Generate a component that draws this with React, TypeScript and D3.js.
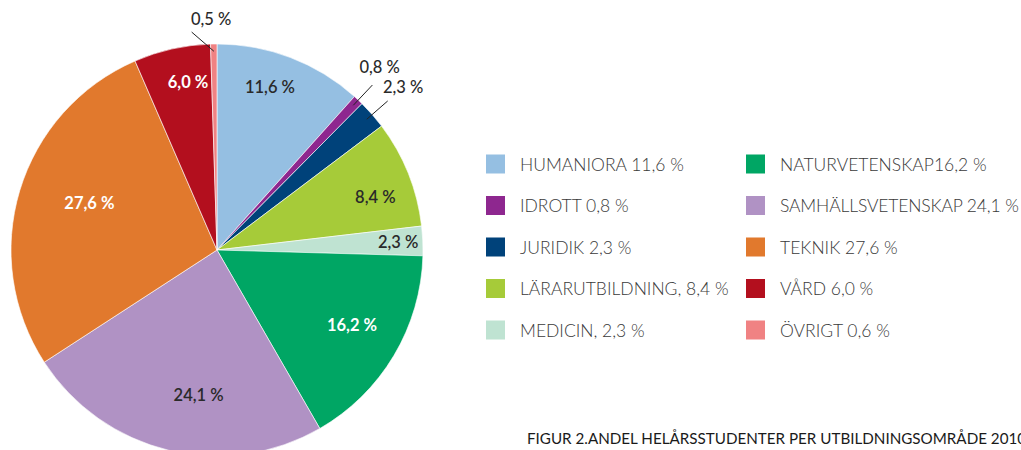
import React from "react";
import * as d3 from "d3";

const categories = ["HUMANIORA", "IDROTT", "JURIDIK", "LÄRARUTBILDNING", "MEDICIN", "NATURVETENSKAP", "SAMHÄLLSVETENSKAP", "TEKNIK", "VÅRD", "ÖVRIGT"];
const values = [11.6, 0.8, 2.3, 8.4, 2.3, 16.2, 24.1, 27.6, 6.0, 0.5];
const sliceLabels = ["11,6 %", "0,8 %", "2,3 %", "8,4 %", "2,3 %", "16,2 %", "24,1 %", "27,6 %", "6,0 %", "0,5 %"];
const legendLabels = ["HUMANIORA 11,6 %", "IDROTT 0,8 %", "JURIDIK 2,3 %", "LÄRARUTBILDNING, 8,4 %", "MEDICIN, 2,3 %", "NATURVETENSKAP16,2 %", "SAMHÄLLSVETENSKAP 24,1 %", "TEKNIK 27,6 %", "VÅRD 6,0 %", "ÖVRIGT 0,6 %"];
const colors = ["#95bfe2", "#8e278f", "#00427a", "#a6cb39", "#bfe3d2", "#00a664", "#b092c4", "#e1792d", "#b30f1e", "#f08283"];
const labelColors = ["#2a2a2a", "#2a2a2a", "#2a2a2a", "#2a2a2a", "#2a2a2a", "#ffffff", "#2a2a2a", "#ffffff", "#ffffff", "#2a2a2a"];
// label placement: inside radius fraction (or outside with leader)
const labelR = [0.83, 1.19, 1.2, 0.81, 0.88, 0.75, 0.71, 0.66, 0.83, 1.12];
const labelAngleShift = [-0.05, -0.03, 0.0, 0.06, 0.0, -0.03, -0.11, 0.06, 0.05, -0.01];
const outside = [false, true, true, false, false, false, false, false, false, true];
const caption = "FIGUR 2.ANDEL HELÅRSSTUDENTER PER UTBILDNINGSOMRÅDE 2010";

export default function App() {
  const cx = 217, cy = 250, R = 206;
  const pie = d3.pie<number>().sort(null).value((d) => d).startAngle(0).endAngle(2 * Math.PI);
  const arcs = pie(values);
  const arc = d3.arc<d3.PieArcDatum<number>>().innerRadius(0).outerRadius(R);
  const polar = (a: number, r: number) => [Math.sin(a) * r, -Math.cos(a) * r];

  const legX = [486, 746];
  const legY = d3.scalePoint<number>().domain([0, 1, 2, 3, 4]).range([164, 330]);
  const font = "Lato, 'Open Sans', sans-serif";

  return (
    <svg width={1021} height={450} style={{ position: "absolute", left: 0, top: 0, background: "#fff" }} fontFamily={font}>
      <g transform={`translate(${cx},${cy})`}>
        {arcs.map((a, i) => (
          <path key={i} d={arc(a) as string} fill={colors[i]} stroke="#ffffff" strokeWidth={0.6} />
        ))}
        {arcs.map((a, i) => {
          const mid = (a.startAngle + a.endAngle) / 2 + labelAngleShift[i];
          const [tx, ty] = polar(mid, R * labelR[i]);
          if (outside[i]) {
            const m0 = (a.startAngle + a.endAngle) / 2;
            const [x1, y1] = polar(m0, R * 0.965);
            const [x2, y2] = polar(m0 + (i === 9 ? -0.1 : 0.0), R * (i === 9 ? 1.065 : 1.1));
            return (
              <g key={"l" + i}>
                <line x1={x1} y1={y1} x2={x2} y2={y2} stroke="#222" strokeWidth={1} />
                <text x={tx} y={ty} textAnchor="middle" dominantBaseline="central" fontSize={16.5} fontWeight={500} fill="#2a2a2a">{sliceLabels[i]}</text>
              </g>
            );
          }
          return (
            <text key={"l" + i} x={tx} y={ty} textAnchor="middle" dominantBaseline="central" fontSize={16.5} fontWeight={labelColors[i] === "#ffffff" ? 700 : 600} fill={labelColors[i]}>{sliceLabels[i]}</text>
          );
        })}
      </g>
      {categories.map((c, i) => {
        const col = Math.floor(i / 5);
        const row = i % 5;
        const y = legY(row) as number;
        return (
          <g key={c}>
            <rect x={legX[col]} y={y - 9.5} width={19} height={19} fill={colors[i]} />
            <text x={legX[col] + 34} y={y} dominantBaseline="central" fontSize={17.5} fontWeight={300} fill="#3a3a3a" letterSpacing={i === 6 ? -0.15 : 0}>{legendLabels[i]}</text>
          </g>
        );
      })}
      <text x={527} y={444} fontSize={15.2} fill="#1a1a1a" fontWeight={400}>{caption}</text>
    </svg>
  );
}
